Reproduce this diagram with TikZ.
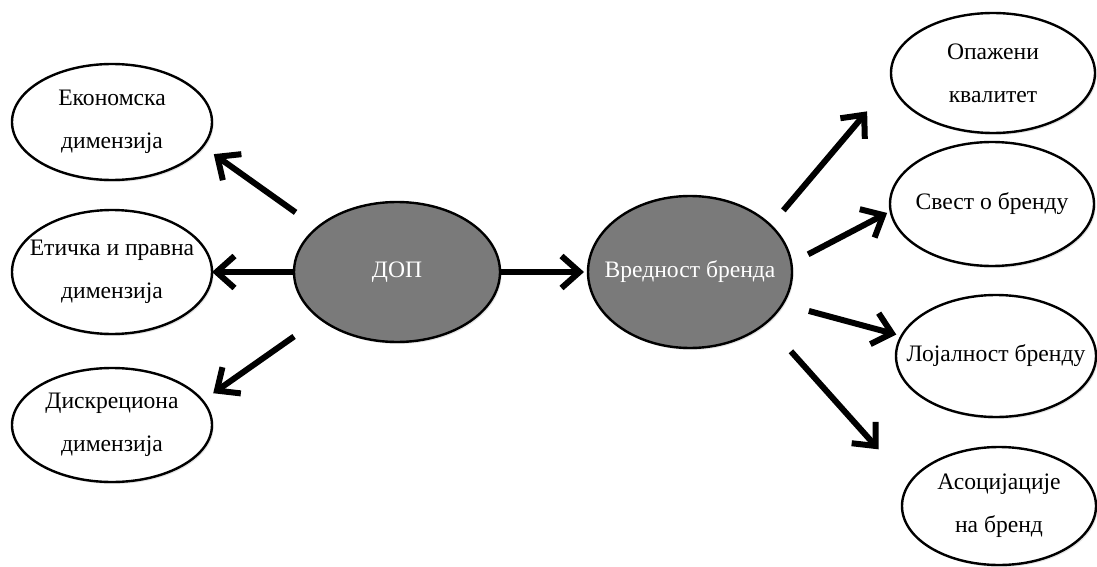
\documentclass[tikz,border=0pt]{standalone}
\usepackage{fontspec}
\setmainfont{Liberation Serif}
\usetikzlibrary{arrows.meta,shapes.geometric,shadows}
\begin{document}
\begin{tikzpicture}[x=0.5pt,y=-0.5pt,
  oval/.style={ellipse, draw=black, line width=1.2pt, fill=white,
    outer sep=0pt, inner sep=0pt,
    drop shadow={shadow xshift=0.8pt, shadow yshift=-1pt, opacity=0.22}},
  hub/.style={oval, fill={rgb,255:red,122;green,122;blue,122}},
  lbl/.style={align=center, inner sep=0pt, font=\fontsize{11.8}{21.5}\selectfont},
  hublbl/.style={lbl, text=white},
  arr/.style={line width=3pt, -{Straight Barb[length=9pt,width=16pt]}}]
\useasboundingbox (0,0) rectangle (1097,567);

% left-hand dimensions
\node[oval, minimum width=100pt, minimum height=58pt,
  label={[lbl]center:Економска\\димензија}] (eko) at (112,122) {};
\node[oval, minimum width=100pt, minimum height=62pt,
  label={[lbl]center:Етичка и правна\\димензија}] (eti) at (112,272) {};
\node[oval, minimum width=100pt, minimum height=57pt,
  label={[lbl]center:Дискрециона\\димензија}] (dis) at (112,425) {};

% central pair
\node[hub, minimum width=103pt, minimum height=70pt,
  label={[hublbl]center:ДОП}] (dop) at (397,272) {};
\node[hub, minimum width=102pt, minimum height=76pt,
  label={[hublbl]center:Вредност бренда}] (vb) at (690,272) {};

% right-hand components
\node[oval, minimum width=102pt, minimum height=60pt,
  label={[lbl]center:Опажени\\квалитет}] (opa) at (993,73) {};
\node[oval, minimum width=102pt, minimum height=62pt,
  label={[lbl]center:Свест о бренду}] (svest) at (992,204) {};
\node[oval, minimum width=100pt, minimum height=61pt,
  label={[lbl]center:Лојалност бренду}] (loj) at (996,356) {};
\node[oval, minimum width=97pt, minimum height=59pt,
  label={[lbl]center:Асоцијације\\на бренд}] (aso) at (999,506) {};

% connectors
\draw[arr, shorten <=13.25pt, shorten >=6.75pt] (dop.151.5) -- (eko.-15.6);
\draw[arr] (dop.west) -- (eti.east);
\draw[arr, shorten <=15.75pt, shorten >=6.55pt] (dop.211.8) -- (dis.15.3);
\draw[arr, shorten >=2pt] (dop.east) -- (vb.west);
\draw[arr, shorten <=9.85pt, shorten >=19.35pt] (vb.30.5) -- (opa.185.6);
\draw[arr, shorten <=9.5pt, shorten >=2pt] (vb.5.9) -- (svest.184.1);
\draw[arr, shorten <=13.6pt, shorten >=2.75pt] (vb.-19.9) -- (loj.168.3);
\draw[arr, shorten <=19pt, shorten >=23pt] (vb.-34.7) -- (aso.166.4);
\end{tikzpicture}
\end{document}
